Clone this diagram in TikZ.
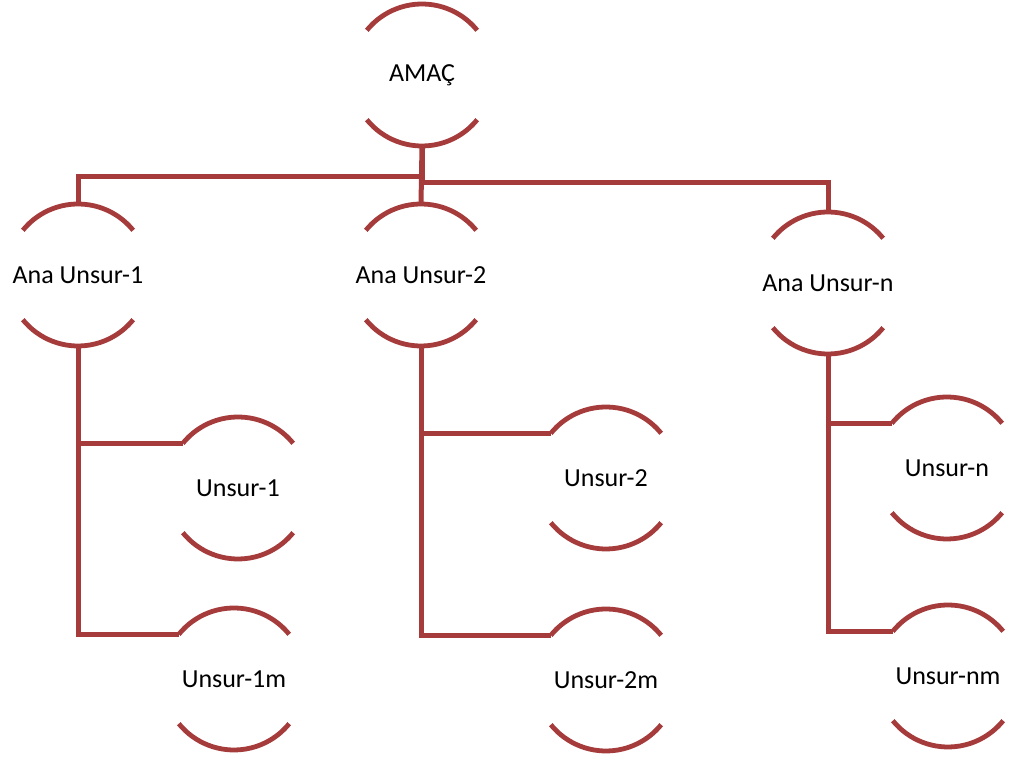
\documentclass[tikz,border=0pt]{standalone}
\usepackage{fontspec}
\setmainfont{Carlito}
\usetikzlibrary{calc}
\definecolor{kiz}{HTML}{A53B3B}
\tikzset{
  unsur/.style={circle,minimum size=71pt,inner sep=0pt,outer sep=0pt,font=\fontsize{13}{15}\selectfont},
  yay/.style={line width=2.4pt,draw=kiz},
  bag/.style={line width=2.5pt,draw=kiz},
}

\begin{document}
\begin{tikzpicture}[x=0.5pt,y=-0.5pt]
\useasboundingbox (0,0) rectangle (1009,774);
% hedef ve ana unsurlar
\node[unsur] (amac) at (422,75) {AMAÇ};
\node[unsur] (ana1) at (78,275) {Ana Unsur-1};
\node[unsur] (ana2) at (421,275) {Ana Unsur-2};
\node[unsur] (anan) at (828,283) {Ana Unsur-n};
% alt unsurlar
\node[unsur] (u1) at (238,488) {Unsur-1};
\node[unsur] (u1m) at (234,679) {Unsur-1m};
\node[unsur] (u2) at (606,478) {Unsur-2};
\node[unsur] (u2m) at (606,680) {Unsur-2m};
\node[unsur] (un) at (947,468) {Unsur-n};
\node[unsur] (unm) at (948,676) {Unsur-nm};
% her unsurun ust ve alt yaylari
\foreach \n in {amac,ana1,ana2,anan,u1,u1m,u2,u2m,un,unm}{
  \draw[yay] (\n.141) arc[start angle=141,end angle=39,radius=35.5pt];
  \draw[yay] (\n.219) arc[start angle=219,end angle=321,radius=35.5pt];
}
% baglantilar
\draw[bag] (amac.south) -- (ana2.north);
\draw[bag] (ana1.north) -- ++(0,-27) -| (amac.south);
\draw[bag] (anan.north) -- ++(0,-29) -| (amac.south);
\draw[bag] (ana1.south) |- (u1m.141);
\draw[bag] (ana1.south |- u1.141) -- (u1.141);
\draw[bag] (ana2.south) |- (u2m.141);
\draw[bag] (ana2.south |- u2.141) -- (u2.141);
\draw[bag] (anan.south) |- (unm.141);
\draw[bag] (anan.south |- un.141) -- (un.141);
\end{tikzpicture}
\end{document}
